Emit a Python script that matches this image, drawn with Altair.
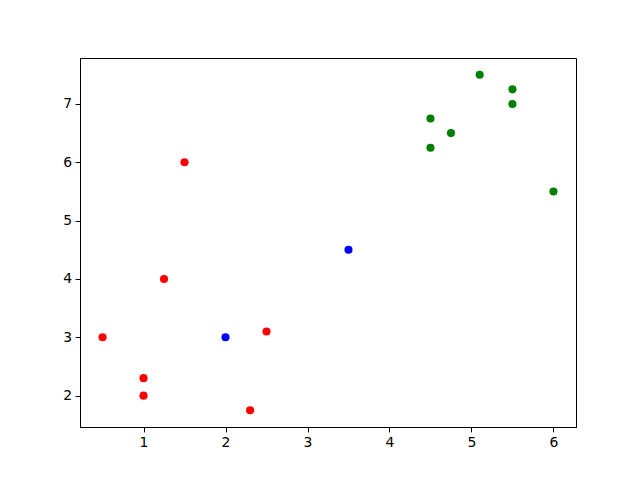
import altair as alt
import pandas as pd

xs = [0.5, 1.0, 1.0, 1.25, 1.5, 2.3, 2.5, 2.0, 3.5, 4.5, 4.5, 4.75, 5.1, 5.5, 5.5, 6.0]
ys = [3.0, 2.3, 2.0, 4.0, 6.0, 1.75, 3.1, 3.0, 4.5, 6.75, 6.25, 6.5, 7.5, 7.25, 7.0, 5.5]
colors = ["#ff0000"] * 7 + ["#0000ff"] * 2 + ["#008000"] * 7
x_ticks = [1, 2, 3, 4, 5, 6]
y_ticks = [2, 3, 4, 5, 6, 7]

df = pd.DataFrame({"x": xs, "y": ys, "c": colors})

axis_common = dict(
    grid=False, domainColor="black", tickColor="black", labelColor="black",
    labelFont="DejaVu Sans", labelFontSize=13.9, tickSize=4.9, labelPadding=3.5,
    title=None, format="d",
)

chart = alt.Chart(df).mark_point(filled=True, opacity=1, size=66, shape="circle").encode(
    x=alt.X("x:Q", scale=alt.Scale(domain=[0.225, 6.275], nice=False, zero=False),
            axis=alt.Axis(values=x_ticks, **axis_common)),
    y=alt.Y("y:Q", scale=alt.Scale(domain=[1.4625, 7.7875], nice=False, zero=False),
            axis=alt.Axis(values=y_ticks, **axis_common)),
    color=alt.Color("c:N", scale=None),
).properties(
    width=496, height=369,
    background="white",
    autosize=alt.AutoSizeParams(type="none"),
    padding={"left": 72, "top": 50, "right": 56, "bottom": 45},
).configure_view(stroke="black", strokeWidth=1)

chart.save("out.html", embed_options={"renderer": "svg", "actions": False})
